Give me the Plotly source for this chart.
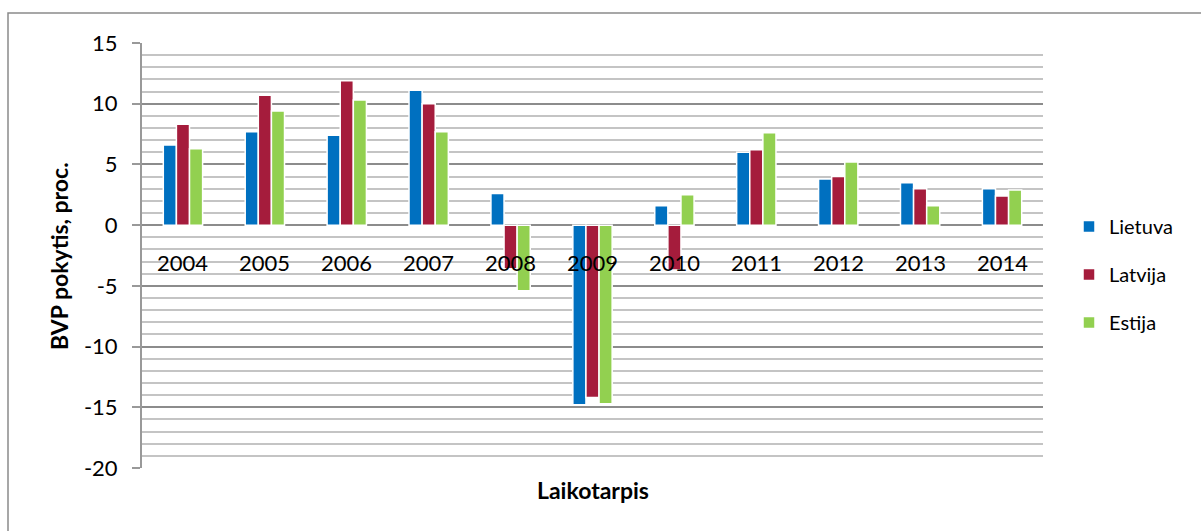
import plotly.graph_objects as go

# BVP pokytis (%) pagal metus Baltijos šalyse
years = ["2004", "2005", "2006", "2007", "2008", "2009", "2010", "2011", "2012", "2013", "2014"]
lietuva = [6.6, 7.7, 7.4, 11.1, 2.6, -14.8, 1.6, 6.0, 3.8, 3.5, 3.0]
latvija = [8.3, 10.7, 11.9, 10.0, -3.6, -14.2, -3.7, 6.2, 4.0, 3.0, 2.4]
estija = [6.3, 9.4, 10.3, 7.7, -5.4, -14.7, 2.5, 7.6, 5.2, 1.6, 2.9]
series_names = ["Lietuva", "Latvija", "Estija"]
colors = ["#0070C0", "#A51C3C", "#92D050"]
y_ticks = [15, 10, 5, 0, -5, -10, -15, -20]
y_tick_text = ["15", "10", "5", "0", "-5", "-10", "-15", "-20"]

FONT = "Lato"
W, H = 1201, 531
ML, MR, MT, MB = 142, 158, 43, 63
PW, PH = W - ML - MR, H - MT - MB


def px_x(p):
    return (p - ML) / PW


def px_y(p):
    return (H - MB - p) / PH


fig = go.Figure()
for name, vals, col in zip(series_names, [lietuva, latvija, estija], colors):
    fig.add_trace(go.Bar(
        x=years, y=vals, name=name, legendgroup=name,
        marker=dict(color=col, line=dict(color="white", width=1.5)),
    ))

# category labels sit on the zero line, drawn over the bars
# (category axes place annotations by category index)
for idx, yr in enumerate(years):
    fig.add_annotation(x=idx, y=0, xref="x", yref="y", text=yr, showarrow=False,
                       yanchor="middle", yshift=-37,
                       font=dict(family=FONT, size=22, color="#000000"))

fig.add_annotation(x=px_x(59), y=px_y(256), xref="paper", yref="paper",
                   xanchor="center", yanchor="middle",
                   text="<b>BVP pokytis, proc.</b>", textangle=-90, showarrow=False,
                   font=dict(family=FONT, size=23, color="#000000"))
fig.add_annotation(x=0.5, y=px_y(490), xref="paper", yref="paper",
                   xanchor="center", yanchor="middle",
                   text="<b>Laikotarpis</b>", showarrow=False,
                   font=dict(family=FONT, size=23, color="#000000"))

# chart frame
fig.add_shape(type="rect", xref="paper", yref="paper",
              x0=px_x(8), x1=px_x(1300), y0=px_y(13), y1=px_y(700),
              line=dict(color="#8a8a8a", width=1.5), fillcolor="rgba(0,0,0,0)", layer="below")

fig.update_layout(
    width=W, height=H,
    margin=dict(l=ML, r=MR, t=MT, b=MB),
    paper_bgcolor="white", plot_bgcolor="white",
    barmode="group", bargap=0.52, bargroupgap=0,
    font=dict(family=FONT, size=20, color="#000000"),
    legend=dict(x=px_x(1069), y=px_y(207), xanchor="left", yanchor="top",
                font=dict(family=FONT, size=20), traceorder="grouped",
                tracegroupgap=19, itemwidth=30),
    xaxis=dict(type="category", showticklabels=False, showgrid=False, showline=False,
               ticks="", zeroline=False, range=[-0.5, len(years) - 0.5]),
    yaxis=dict(range=[-20, 15], tickvals=y_ticks, ticktext=y_tick_text, showgrid=True,
               gridcolor="#8c8c8c", gridwidth=2,
               zeroline=True, zerolinecolor="#8c8c8c", zerolinewidth=2,
               showline=True, linecolor="#999999", linewidth=2,
               ticks="outside", ticklen=8, tickcolor="#999999", tickwidth=2,
               ticklabelstandoff=10,
               minor=dict(dtick=1, tick0=0, showgrid=True, gridcolor="#c4c4c4", gridwidth=2, ticks=""),
               tickfont=dict(family=FONT, size=22)),
)

fig.write_html("out.html")
